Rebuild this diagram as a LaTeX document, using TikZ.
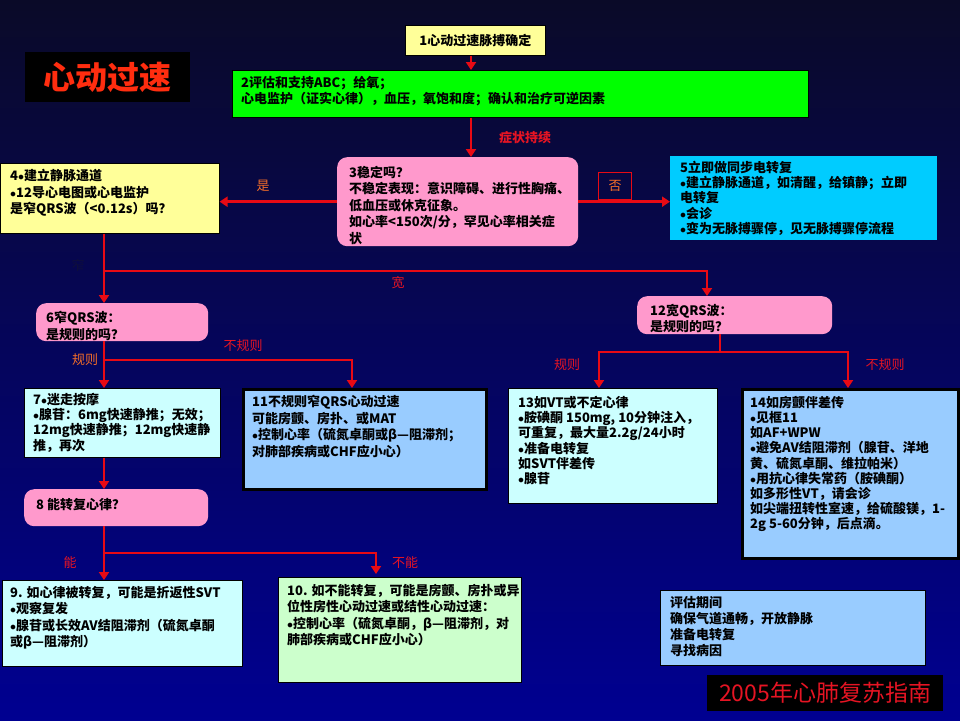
\documentclass[tikz,border=0pt]{standalone}
\usepackage{fontspec}
\setmainfont{Noto Sans CJK SC}
\usetikzlibrary{arrows.meta}

\definecolor{bgtop}{RGB}{10,10,40}
\definecolor{bgmid}{RGB}{6,6,95}
\definecolor{bgbot}{RGB}{0,0,145}
\definecolor{qyellow}{RGB}{255,255,153}
\definecolor{qgreen}{RGB}{0,255,0}
\definecolor{qpink}{RGB}{255,153,204}
\definecolor{qcyan}{RGB}{0,204,255}
\definecolor{qpale}{RGB}{204,255,255}
\definecolor{qblue}{RGB}{153,204,255}
\definecolor{qmint}{RGB}{204,255,204}
\definecolor{linered}{RGB}{232,10,20}
\definecolor{tagred}{RGB}{230,20,35}
\definecolor{tagorange}{RGB}{245,110,40}
\definecolor{dimnavy}{RGB}{15,15,60}
\definecolor{titlered}{RGB}{255,45,15}

\newcommand{\dotmark}{\ensuremath{\bullet}}

\tikzset{
  panel/.style={draw=black, line width=0.6pt, anchor=north west, inner sep=0pt},
  roundpanel/.style={anchor=north west, inner sep=0pt, fill=qpink, rounded corners=10pt},
  txt/.style={anchor=north west, inner sep=0pt, align=left,
    font={\fontsize{13}{16.5}\selectfont\bfseries}},
  tighttxt/.style={txt, font={\fontsize{13}{15.2}\selectfont\bfseries}},
  flow/.style={draw=linered, line width=2.6pt, -{Triangle[length=8pt,width=10pt]}},
  wire/.style={draw=linered, line width=2.6pt},
  tag/.style={inner sep=1pt, text=tagred, font={\fontsize{13}{15}\selectfont}},
}

\begin{document}
\begin{tikzpicture}[x=1pt, y=-1pt]
  \useasboundingbox (0,0) rectangle (960,720);
  \shade[top color=bgtop, middle color=bgmid, bottom color=bgbot] (0,0) rectangle (960,720);

  % title and footer
  \node[anchor=north west, fill=black, minimum width=165pt, minimum height=50pt, inner sep=0pt,
    text=titlered, font={\fontsize{32}{32}\selectfont\bfseries}] (title) at (25,52) {心动过速};
  \node[anchor=north west, fill=black, minimum width=236pt, minimum height=36pt, inner sep=0pt,
    text=tagred, font={\fontsize{23}{23}\selectfont}] (guide) at (707,675) {2005年心肺复苏指南};

  % boxes
  \node[panel, fill=qyellow, minimum width=140pt, minimum height=30pt,
    font={\fontsize{13}{16}\selectfont\bfseries}] (b1) at (405,25) {1心动过速脉搏确定};
  \node[panel, fill=qgreen, minimum width=576pt, minimum height=47pt] (b2) at (232,70) {};
  \node[txt] (t2) at ([shift={(9,6)}]b2.north west)
    {2评估和支持ABC；给氧；\\心电监护（证实心律），血压，氧饱和度；确认和治疗可逆因素};
  \node[roundpanel, minimum width=241pt, minimum height=89pt] (b3) at (337,157) {};
  \node[txt] (t3) at ([shift={(12,9)}]b3.north west)
    {3稳定吗？\\不稳定表现：意识障碍、进行性胸痛、\\低血压或休克征象。\\如心率<150次/分，罕见心率相关症\\状};
  \node[panel, fill=qyellow, minimum width=219pt, minimum height=70pt] (b4) at (0,163) {};
  \node[txt] (t4) at ([shift={(10,6)}]b4.north west)
    {4\dotmark 建立静脉通道\\\dotmark 12导心电图或心电监护\\是窄QRS波（<0.12s）吗？};
  \node[panel, draw=none, fill=qcyan, minimum width=267pt, minimum height=84pt] (b5) at (670,156) {};
  \node[tighttxt] (t5) at ([shift={(10,5)}]b5.north west)
    {5立即做同步电转复\\\dotmark 建立静脉通道，如清醒，给镇静；立即\\电转复\\\dotmark 会诊\\\dotmark 变为无脉搏骤停，见无脉搏骤停流程};
  \node[roundpanel, minimum width=172pt, minimum height=38pt] (b6) at (36,303) {};
  \node[txt] (t6) at ([shift={(10,8)}]b6.north west) {6窄QRS波：\\是规则的吗？};
  \node[panel, fill=qpale, minimum width=196pt, minimum height=69pt] (b7) at (24,388) {};
  \node[tighttxt] (t7) at ([shift={(9,5)}]b7.north west)
    {7\dotmark 迷走按摩\\\dotmark 腺苷：6mg快速静推；无效；\\12mg快速静推；12mg快速静\\推，再次};
  \node[roundpanel, minimum width=184pt, minimum height=37pt] (b8) at (24,489) {};
  \node[txt] (t8) at ([shift={(12,9)}]b8.north west) {8 能转复心律？};
  \node[panel, fill=qpale, minimum width=240pt, minimum height=86pt] (b9) at (2,580) {};
  \node[txt] (t9) at ([shift={(8,6)}]b9.north west)
    {9. 如心律被转复，可能是折返性SVT\\\dotmark 观察复发\\\dotmark 腺苷或长效AV结阻滞剂（硫氮卓酮\\或β—阻滞剂）};
  \node[panel, fill=qmint, minimum width=243pt, minimum height=105pt] (b10) at (278,577) {};
  \node[txt] (t10) at ([shift={(9,7)}]b10.north west)
    {10. 如不能转复，可能是房颤、房扑或异\\位性房性心动过速或结性心动过速：\\\dotmark 控制心率（硫氮卓酮，β—阻滞剂，对\\肺部疾病或CHF应小心）};
  \node[panel, fill=qblue, line width=3pt, minimum width=243pt, minimum height=100pt] (b11) at (242,388) {};
  \node[txt] (t11) at ([shift={(10,7)}]b11.north west)
    {11不规则窄QRS心动过速\\可能房颤、房扑、或MAT\\\dotmark 控制心率（硫氮卓酮或β—阻滞剂；\\对肺部疾病或CHF应小心）};
  \node[roundpanel, minimum width=195pt, minimum height=38pt] (b12) at (637,296) {};
  \node[txt] (t12) at ([shift={(13,8)}]b12.north west) {12宽QRS波：\\是规则的吗？};
  \node[panel, fill=qpale, minimum width=209pt, minimum height=115pt] (b13) at (508,388) {};
  \node[tighttxt] (t13) at ([shift={(10,8)}]b13.north west)
    {13如VT或不定心律\\\dotmark 胺碘酮 150mg, 10分钟注入，\\可重复，最大量2.2g/24小时\\\dotmark 准备电转复\\如SVT伴差传\\\dotmark 腺苷};
  \node[panel, fill=qblue, line width=3pt, minimum width=216pt, minimum height=169pt] (b14) at (741,388) {};
  \node[tighttxt] (t14) at ([shift={(9,8)}]b14.north west)
    {14如房颤伴差传\\\dotmark 见框11\\如AF+WPW\\\dotmark 避免AV结阻滞剂（腺苷、洋地\\黄、硫氮卓酮、维拉帕米）\\\dotmark 用抗心律失常药（胺碘酮）\\如多形性VT，请会诊\\如尖端扭转性室速，给硫酸镁，1-\\2g 5-60分钟，后点滴。};
  \node[panel, fill=qblue, minimum width=265pt, minimum height=75pt] (ev) at (660,590) {};
  \node[txt, font={\fontsize{13}{16}\selectfont\bfseries}] (tev) at ([shift={(10,6)}]ev.north west)
    {评估期间\\确保气道通畅，开放静脉\\准备电转复\\寻找病因};

  % connectors
  \coordinate (cx) at (471,0);
  \coordinate (lx) at (104,0);
  \coordinate (rx) at (707,0);
  \coordinate (mx) at (352,0);
  \coordinate (c13) at (599,0);
  \coordinate (c14) at (848,0);
  \coordinate (fork1) at (104,271);
  \coordinate (fork2) at (104,360);
  \coordinate (fork3) at (104,553);
  \coordinate (fork4) at (720,352);
  \coordinate (end10) at (376,574);

  \draw[flow] (b1.south -| cx) -- (b2.north -| cx);
  \draw[flow] (b2.south -| cx) -- (b3.north -| cx);
  \draw[flow] (b3.west) -- (b3.west -| b4.east);
  \draw[flow] (b3.east) -- (b3.east -| b5.west);
  \draw[flow] (b4.south -| lx) -- (b6.north -| lx);
  \draw[flow] (fork1) -| (b12.north -| rx);
  \draw[flow] (b6.south -| lx) -- (b7.north -| lx);
  \draw[flow] (fork2) -| (b11.north -| mx);
  \draw[flow] (b7.south -| lx) -- (b8.north -| lx);
  \draw[flow] (b8.south -| lx) -- (b9.north -| lx);
  \draw[flow] (fork3) -| (end10);
  \draw[wire] (b12.south -| fork4) -- (fork4);
  \draw[flow] (fork4) -| (b13.north -| c13);
  \draw[flow] (fork4) -| (b14.north -| c14);

  % branch labels
  \node[tag, font={\fontsize{13}{15}\selectfont\bfseries}] (l1) at (525,138) {症状持续};
  \node[tag, text=tagorange] (l2) at (263,186) {是};
  \node[anchor=north west, draw=linered, line width=1pt, minimum width=33pt, minimum height=27pt,
    inner sep=0pt, text=tagorange, font={\fontsize{13}{15}\selectfont}] (no) at (598,172) {否};
  \node[tag, text=dimnavy] (l3) at (78,265) {窄};
  \node[tag] (l4) at (398,283) {宽};
  \node[tag, text=tagorange] (l5) at (85,360) {规则};
  \node[tag] (l6) at (243,346) {不规则};
  \node[tag] (l7) at (70,563) {能};
  \node[tag] (l8) at (405,563) {不能};
  \node[tag] (l9) at (567,365) {规则};
  \node[tag] (l10) at (885,365) {不规则};
\end{tikzpicture}
\end{document}
